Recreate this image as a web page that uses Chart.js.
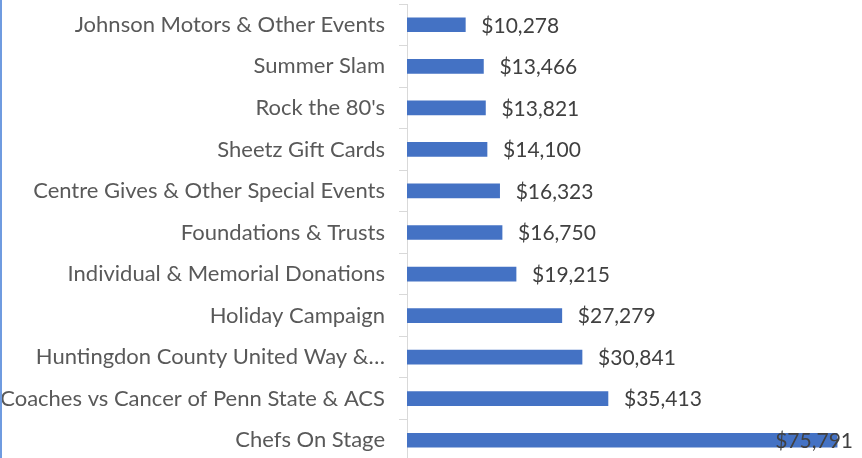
<!DOCTYPE html>
<html>
<head>
<meta charset="utf-8">
<script src="https://cdn.jsdelivr.net/npm/chart.js@4.4.0/dist/chart.umd.min.js"></script>
<style>
    html, body { margin: 0; padding: 0; background: #fff; overflow: hidden; }
    #wrap { position: relative; width: 862px; height: 461px; }
    #edge { position: absolute; left: 0; top: 0; width: 2px; height: 458px; background: #6f9be0; z-index: 2; }
</style>
</head>
<body>
<div id="wrap">
    <div id="edge"></div>
    <canvas id="barChart"></canvas>
</div>
<script>
const CATEGORIES = [
    'Johnson Motors & Other Events',
    'Summer Slam',
    "Rock the 80's",
    'Sheetz Gift Cards',
    'Centre Gives & Other Special Events',
    'Foundations & Trusts',
    'Individual & Memorial Donations',
    'Holiday Campaign',
    'Huntingdon County United Way &\u2026',
    'Coaches vs Cancer of Penn State & ACS',
    'Chefs On Stage'
];
const AMOUNTS = [10278, 13466, 13821, 14100, 16323, 16750, 19215, 27279, 30841, 35413, 75791];
const AXIS_MAX = 80000;

const FONT = 'Lato, "Open Sans", sans-serif';
const LABEL_SIZE = 22;
const VALUE_SIZE = 21;

function formatCurrency(v) {
    return '$' + v.toLocaleString('en-US');
}

// draws "$xx,xxx" after each bar, pulled back inside the plot when it would overflow
const valueLabels = {
    id: 'valueLabels',
    afterDatasetsDraw(chart) {
        const ctx = chart.ctx;
        const area = chart.chartArea;
        ctx.save();
        ctx.font = VALUE_SIZE + 'px ' + FONT;
        ctx.fillStyle = '#404040';
        ctx.textBaseline = 'middle';
        ctx.textAlign = 'left';
        chart.getDatasetMeta(0).data.forEach((bar, i) => {
            const txt = formatCurrency(AMOUNTS[i]);
            const w = ctx.measureText(txt).width;
            let x = bar.x + 16;
            if (x + w > area.right - 8) x = area.right - 8 - w;
            ctx.fillText(txt, x, bar.y + 1);
        });
        ctx.restore();
    }
};

new Chart(document.getElementById('barChart'), {
    type: 'bar',
    data: {
        labels: CATEGORIES,
        datasets: [{
            data: AMOUNTS,
            backgroundColor: '#4472C4',
            barThickness: 14
        }]
    },
    options: {
        indexAxis: 'y',
        responsive: true,
        maintainAspectRatio: false,
        animation: false,
        layout: { padding: { top: 4, right: 1, bottom: 0, left: 0 } },
        plugins: {
            legend: { display: false },
            tooltip: { enabled: false }
        },
        scales: {
            x: {
                display: false,
                min: 0,
                max: AXIS_MAX
            },
            y: {
                afterFit(scale) {
                    scale.width = 407;
                    scale.paddingTop = 0;
                    scale.paddingBottom = 0;
                },
                border: { display: true, color: '#d9d9d9', width: 1 },
                grid: {
                    offset: true,
                    drawOnChartArea: false,
                    drawTicks: true,
                    tickLength: 8,
                    color: '#d9d9d9'
                },
                ticks: {
                    padding: 14,
                    color: '#595959',
                    font: { family: FONT, size: LABEL_SIZE }
                }
            }
        }
    },
    plugins: [valueLabels]
});
</script>
</body>
</html>
